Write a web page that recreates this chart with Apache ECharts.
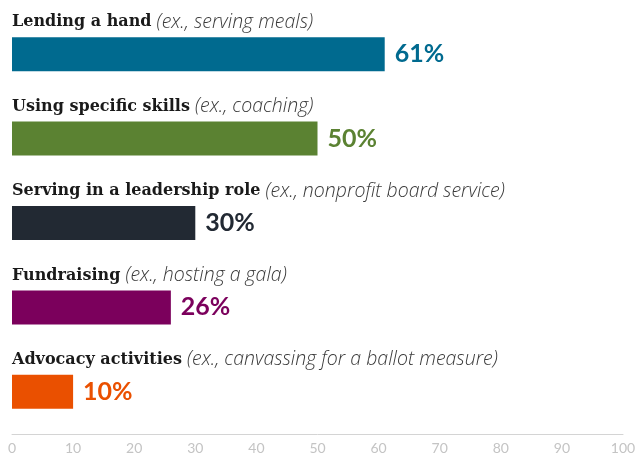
<!DOCTYPE html>
<html><head><meta charset="utf-8">
<script src="https://cdn.jsdelivr.net/npm/echarts@6/dist/echarts.min.js"></script>
<style>html,body{margin:0;padding:0;background:#fff}#c{width:642px;height:455px}</style>
</head><body><div id="c"></div>
<script>
const categories = ['Lending a hand', 'Using specific skills', 'Serving in a leadership role', 'Fundraising', 'Advocacy activities'];
const examples = ['(ex., serving meals)', '(ex., coaching)', '(ex., nonprofit board service)', '(ex., hosting a gala)', '(ex., canvassing for a ballot measure)'];
const values = [61, 50, 30, 26, 10];
const colors = ['#006a8f', '#5b8232', '#222933', '#7b005c', '#ea5000'];
const xTicks = [0, 10, 20, 30, 40, 50, 60, 70, 80, 90, 100];

const chart = echarts.init(document.getElementById('c'));
chart.setOption({
  animation: false,
  grid: { left: 12, right: 19, top: 12, bottom: 20, containLabel: false },
  xAxis: {
    type: 'value', min: 0, max: 100, interval: 10,
    axisLine: { show: true, lineStyle: { color: '#d4d4d4', width: 1 } },
    axisTick: { show: false },
    splitLine: { show: false },
    axisLabel: { color: '#c4c4c4', fontFamily: 'Lato', fontSize: 14, margin: 7,
      formatter: v => xTicks.includes(v) ? String(v) : '' }
  },
  yAxis: {
    type: 'category', data: categories, inverse: true,
    axisLine: { show: false }, axisTick: { show: false },
    axisLabel: {
      inside: true, margin: 0, align: 'left', verticalAlign: 'bottom',
      padding: [0, 0, 22, 0],
      formatter: (v, i) => '{b|' + v + '}{s| }{i|' + examples[i] + '}',
      rich: {
        b: { fontFamily: 'DejaVu Serif', fontWeight: 'bold', fontSize: 16, color: '#1a1a1a' },
        s: { fontFamily: 'DejaVu Serif', fontSize: 16 },
        i: { fontFamily: 'Open Sans', fontStyle: 'italic', fontWeight: 300, fontSize: 19.5, color: '#3a3a3a' }
      }
    }
  },
  series: [{
    type: 'bar', barWidth: 34,
    data: values.map((v, i) => ({ value: v, itemStyle: { color: colors[i] },
      label: { color: colors[i] } })),
    label: { show: true, position: 'right', distance: 10, formatter: '{c}%',
      fontFamily: 'Lato', fontWeight: 'bold', fontSize: 25 }
  }]
});
</script></body></html>
